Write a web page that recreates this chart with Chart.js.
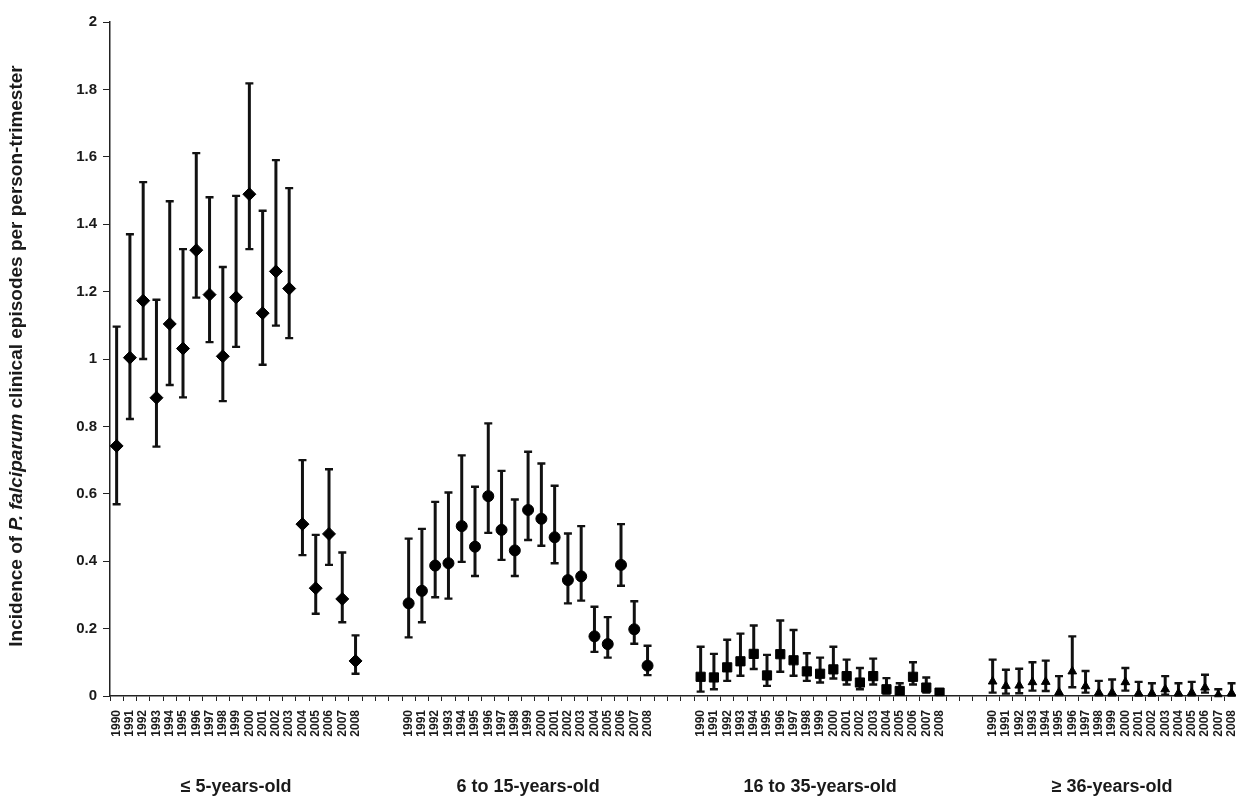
<!DOCTYPE html>
<html>
<head>
<meta charset="utf-8">
<script src="https://cdn.jsdelivr.net/npm/chart.js@4.4.1/dist/chart.umd.min.js"></script>
<style>
  html, body { margin:0; padding:0; background:#fff; }
  #wrap { width:1236px; height:801px; overflow:hidden; position:relative; }
  canvas { display:block; }
</style>
</head>
<body>
<div id="wrap"><canvas id="chart" width="1255" height="801"></canvas></div>
<script>
const years = ['1990','1991','1992','1993','1994','1995','1996','1997','1998','1999',
               '2000','2001','2002','2003','2004','2005','2006','2007','2008'];
const groupNames = ['\u2264 5-years-old','6 to 15-years-old','16 to 35-years-old','\u2265 36-years-old'];
const gapSlots = 3;
const yTicks = [0,0.2,0.4,0.6,0.8,1,1.2,1.4,1.6,1.8,2];

// <= 5 years
const g1Mean = [0.742,1.004,1.173,0.885,1.104,1.031,1.323,1.191,1.008,1.183,1.489,1.136,1.260,1.209,0.510,0.320,0.481,0.288,0.104];
const g1Low  = [0.569,0.822,1.000,0.740,0.923,0.886,1.182,1.050,0.875,1.036,1.326,0.983,1.099,1.062,0.418,0.244,0.389,0.219,0.066];
const g1High = [1.096,1.370,1.525,1.176,1.468,1.326,1.611,1.480,1.273,1.484,1.818,1.440,1.590,1.507,0.700,0.478,0.673,0.426,0.180];
// 6 to 15 years
const g2Mean = [0.275,0.312,0.387,0.394,0.504,0.443,0.593,0.493,0.432,0.552,0.526,0.471,0.344,0.355,0.177,0.154,0.389,0.198,0.090];
const g2Low  = [0.174,0.219,0.293,0.289,0.398,0.356,0.484,0.404,0.356,0.463,0.446,0.394,0.275,0.283,0.131,0.114,0.327,0.155,0.062];
const g2High = [0.467,0.496,0.576,0.604,0.714,0.621,0.809,0.668,0.583,0.725,0.690,0.624,0.482,0.504,0.265,0.234,0.510,0.281,0.149];
// 16 to 35 years
const g3Mean = [0.057,0.055,0.085,0.103,0.125,0.061,0.124,0.106,0.073,0.066,0.079,0.059,0.040,0.059,0.020,0.015,0.057,0.025,0.010];
const g3Low  = [0.013,0.020,0.045,0.060,0.080,0.030,0.072,0.060,0.045,0.040,0.052,0.034,0.020,0.034,0.007,0.004,0.034,0.010,0.003];
const g3High = [0.146,0.125,0.167,0.185,0.209,0.122,0.224,0.196,0.127,0.114,0.146,0.108,0.083,0.111,0.053,0.038,0.100,0.055,0.016];
// >= 36 years
const g4Mean = [0.043,0.030,0.031,0.041,0.042,0.011,0.073,0.029,0.010,0.010,0.041,0.008,0.008,0.020,0.008,0.010,0.025,0.003,0.008];
const g4Low  = [0.010,0.007,0.008,0.016,0.015,0.003,0.026,0.010,0.002,0.002,0.016,0.001,0.001,0.004,0.001,0.002,0.010,0.000,0.001];
const g4High = [0.108,0.078,0.081,0.100,0.105,0.059,0.177,0.074,0.045,0.049,0.083,0.042,0.038,0.059,0.038,0.042,0.063,0.020,0.038];

const groups = [
  { mean:g1Mean, low:g1Low, high:g1High, style:'rectRot', radius:6.5 },
  { mean:g2Mean, low:g2Low, high:g2High, style:'circle',  radius:5.5 },
  { mean:g3Mean, low:g3Low, high:g3High, style:'rect',    radius:6.5 },
  { mean:g4Mean, low:g4Low, high:g4High, style:'triangle',radius:5 }
];

// category labels: years per group, blank slots between groups
const labels = [];
const groupStart = [];
groups.forEach((g,gi)=>{
  groupStart.push(labels.length);
  years.forEach(y=>labels.push(y));
  if(gi < groups.length-1) for(let k=0;k<gapSlots;k++) labels.push('');
});

function spread(arr, gi){
  const out = new Array(labels.length).fill(null);
  arr.forEach((v,i)=>{ out[groupStart[gi]+i] = v; });
  return out;
}

const datasets = groups.map((g,gi)=>({
  data: spread(g.mean, gi),
  errLow: spread(g.low, gi),
  errHigh: spread(g.high, gi),
  showLine:false,
  pointStyle:g.style,
  pointRadius:g.radius,
  pointBackgroundColor:'#000',
  pointBorderColor:'#000',
  pointBorderWidth:1
}));

// error bars, drawn behind the markers
const errorBars = {
  id:'errorBars',
  beforeDatasetsDraw(chart){
    const ctx = chart.ctx, ys = chart.scales.y;
    ctx.save();
    ctx.strokeStyle = '#111';
    chart.data.datasets.forEach((ds,i)=>{
      const meta = chart.getDatasetMeta(i);
      ds.data.forEach((v,j)=>{
        if(v===null) return;
        const x = meta.data[j].x;
        const yl = ys.getPixelForValue(ds.errLow[j]);
        const yh = ys.getPixelForValue(ds.errHigh[j]);
        ctx.lineWidth = 3;
        ctx.beginPath(); ctx.moveTo(x,yl); ctx.lineTo(x,yh); ctx.stroke();
        ctx.lineWidth = 2.4;
        ctx.beginPath();
        ctx.moveTo(x-4,yl); ctx.lineTo(x+4,yl);
        ctx.moveTo(x-4,yh); ctx.lineTo(x+4,yh);
        ctx.stroke();
      });
    });
    ctx.restore();
  }
};

// y title with italic species name, and group names under the axis
const extraText = {
  id:'extraText',
  afterDraw(chart){
    const ctx = chart.ctx, xs = chart.scales.x;
    ctx.save();
    ctx.fillStyle = '#1a1a1a';
    const parts = [
      ['Incidence of ', 'bold 19px "Liberation Sans", Arial, sans-serif'],
      ['P. falciparum', 'italic bold 19px "Liberation Sans", Arial, sans-serif'],
      [' clinical episodes per person-trimester', 'bold 19px "Liberation Sans", Arial, sans-serif']
    ];
    let total = 0;
    parts.forEach(p=>{ ctx.font=p[1]; total += ctx.measureText(p[0]).width; });
    ctx.translate(17, 356);
    ctx.rotate(-Math.PI/2);
    ctx.textBaseline = 'middle';
    ctx.textAlign = 'left';
    let cx = -total/2;
    parts.forEach(p=>{ ctx.font=p[1]; ctx.fillText(p[0], cx, 0); cx += ctx.measureText(p[0]).width; });
    ctx.restore();

    ctx.save();
    ctx.fillStyle = '#1a1a1a';
    ctx.font = 'bold 18px "Liberation Sans", Arial, sans-serif';
    ctx.textAlign = 'center';
    ctx.textBaseline = 'middle';
    groupNames.forEach((name,gi)=>{
      const x = xs.getPixelForValue(groupStart[gi] + (years.length-1)/2);
      ctx.fillText(name, x, 787);
    });
    ctx.restore();
  }
};

new Chart(document.getElementById('chart').getContext('2d'), {
  type:'line',
  data:{ labels, datasets },
  plugins:[errorBars, extraText],
  options:{
    responsive:false,
    animation:false,
    layout:{ padding:{ top:22, left:0, right:0, bottom:0 } },
    plugins:{ legend:{display:false}, tooltip:{enabled:false} },
    scales:{
      x:{
        type:'category',
        offset:true,
        grid:{ offset:true, drawOnChartArea:false, tickLength:5, color:'#222', tickWidth:1 },
        border:{ color:'#222', width:1.5 },
        ticks:{
          autoSkip:false, maxRotation:90, minRotation:90, padding:9,
          color:'#1a1a1a', font:{ family:'"Liberation Sans", Arial, sans-serif', size:12, weight:'bold' }
        },
        afterFit(scale){ scale.height = 105; }
      },
      y:{
        min:0, max:2,
        afterBuildTicks(scale){ scale.ticks = yTicks.map(v=>({value:v})); },
        grid:{ drawOnChartArea:false, tickLength:7, color:'#222', tickWidth:1 },
        border:{ color:'#222', width:1.5 },
        ticks:{
          padding:6, color:'#1a1a1a',
          font:{ family:'"Liberation Sans", Arial, sans-serif', size:15, weight:'bold' },
          callback:v=>String(+v.toFixed(1))
        },
        afterFit(scale){ scale.width = 110; }
      }
    }
  }
});
</script>
</body>
</html>
